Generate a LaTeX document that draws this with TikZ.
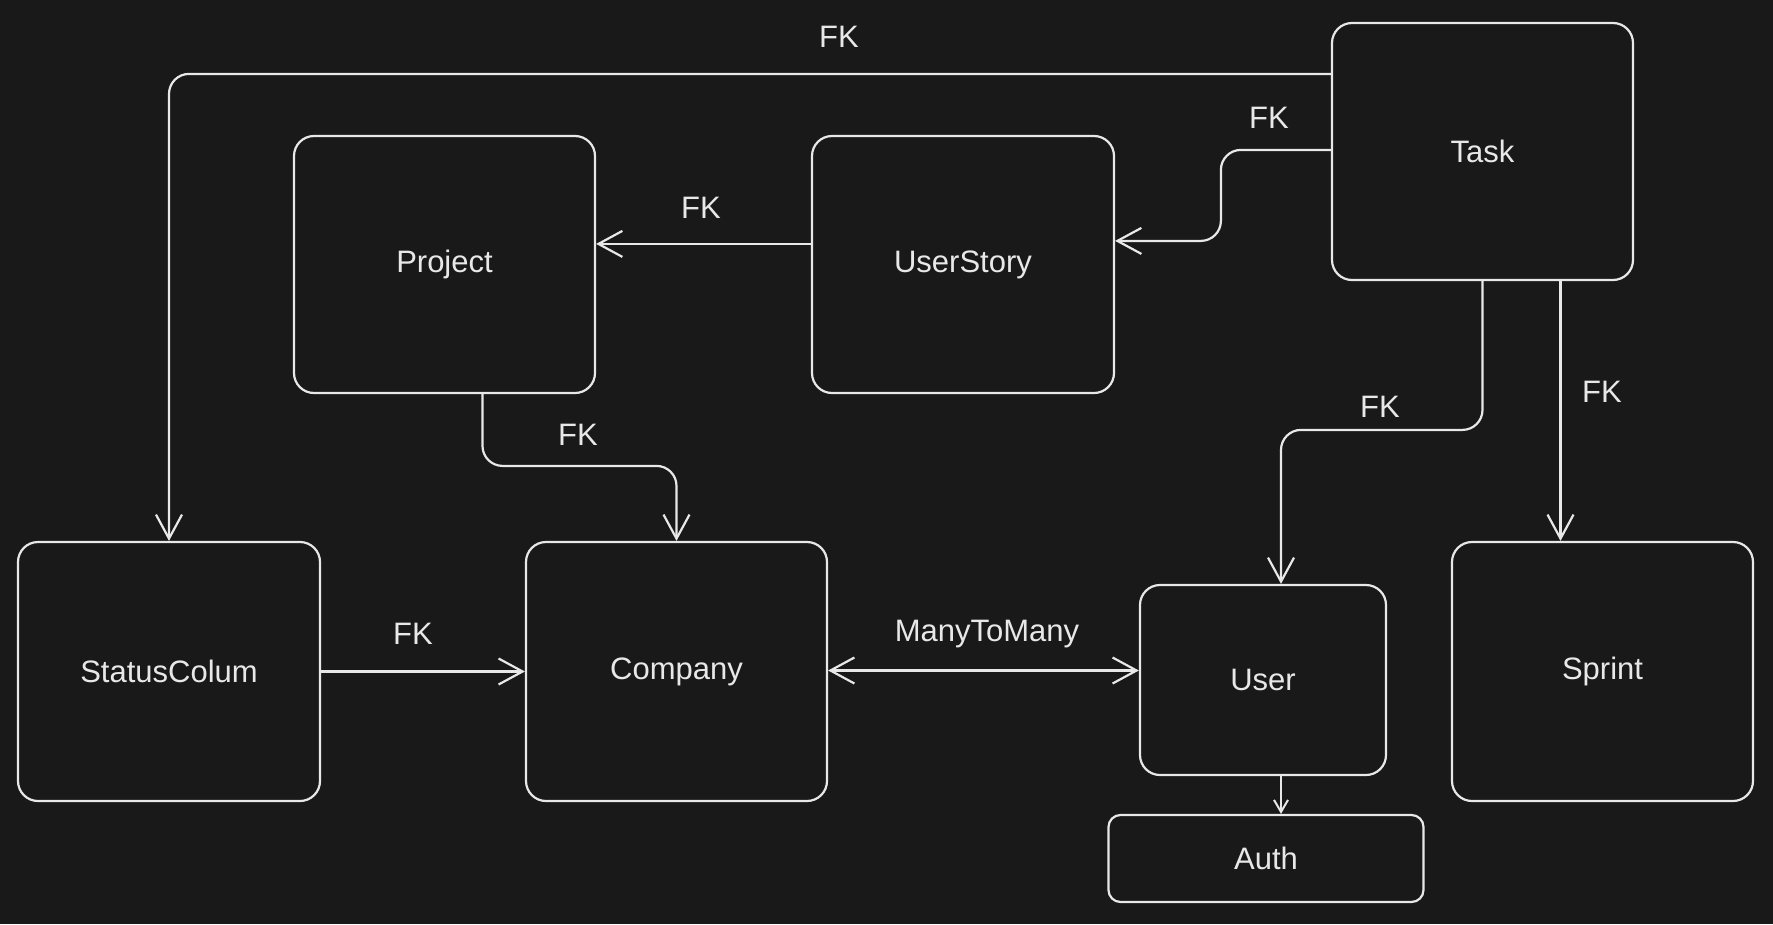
\documentclass[tikz,border=0pt]{standalone}
\usepackage{fontspec}
\setmainfont{Liberation Sans}
\usetikzlibrary{calc,arrows.meta}
\definecolor{bgc}{HTML}{191919}
\definecolor{inkc}{HTML}{E8E8E8}
\tikzset{
  box/.style={draw=inkc, fill=bgc, line width=2.2pt, rounded corners=20pt, inner sep=0pt,
    text=inkc, font=\fontsize{31}{37}\selectfont},
  lbl/.style={text=inkc, inner sep=0pt, font=\fontsize{31}{37}\selectfont},
  conn/.style={draw=inkc, line width=2.2pt, rounded corners=20pt,
    -{Straight Barb[length=24pt,width=26pt,line width=2.2pt]}},
  connb/.style={draw=inkc, line width=2.2pt,
    {Straight Barb[length=24pt,width=26pt,line width=2.2pt]}-{Straight Barb[length=24pt,width=26pt,line width=2.2pt]}},
  conns/.style={draw=inkc, line width=2pt,
    -{Straight Barb[length=12pt,width=14pt,line width=2pt]}},
}
\begin{document}
\begin{tikzpicture}[x=1pt,y=-1pt]
\fill[bgc] (0,0) rectangle (1773,924);
\useasboundingbox (0,0) rectangle (1773,924);

% boxes
\node[box, minimum width=301pt, minimum height=257pt] (Project) at (444.5,264.5) {Project};
\node[box, minimum width=302pt, minimum height=257pt] (UserStory) at (963,264.5) {UserStory};
\node[box, minimum width=301pt, minimum height=257pt] (Task) at (1482.5,151.5) {Task};
\node[box, minimum width=302pt, minimum height=259pt] (StatusColum) at (169,671.5) {StatusColum};
\node[box, minimum width=301pt, minimum height=259pt] (Company) at (676.5,671.5) {Company};
\node[box, minimum width=246pt, minimum height=190pt] (User) at (1263,680) {User};
\node[box, minimum width=301pt, minimum height=259pt] (Sprint) at (1602.5,671.5) {Sprint};
\node[box, minimum width=315pt, minimum height=87pt, rounded corners=12pt] (Auth) at (1266,858.5) {Auth};

% connectors
% Task -> StatusColum
\draw[conn] ($(Task.north west)+(0,52)$) -| (StatusColum.north);
\node[lbl] (l1) at (839,37) {FK};

% Task -> UserStory
\draw[conn] ($(Task.north west)+(0,128)$) -- ++(-110,0) |- ($(UserStory.north east)+(0,106)$);
\node[lbl] (l2) at (1269,118) {FK};

% UserStory -> Project
\draw[conn] ($(UserStory.north west)+(0,109)$) -- ($(Project.north east)+(0,109)$);
\node[lbl] (l3) at (701,208) {FK};

% Project -> Company
\coordinate (pc) at ($(Project.south)+(38,0)$);
\draw[conn] (pc) |- ($(Company.north)+(0,-75)$) -- (Company.north);
\node[lbl] (l4) at (578,435) {FK};

% StatusColum -> Company
\draw[conn] (StatusColum.east) -- (Company.west);
\node[lbl] (l5) at (413,634) {FK};

% Company <-> User
\draw[connb] ([yshift=1pt]Company.east) -- ([yshift=1pt]Company.east -| User.west);
\node[lbl] (l6) at (987,634) {ManyToMany};

% Task -> User
\coordinate (tu) at ($(User.north)+(18,0)$);
\draw[conn] (Task.south) |- ($(tu)+(0,-154)$) -- (tu);
\node[lbl] (l7) at (1380,407) {FK};

% Task -> Sprint
\coordinate (ts) at ($(Task.south)+(78,0)$);
\draw[conn] (ts) -- (ts |- Sprint.north);
\node[lbl] (l8) at (1602,392) {FK};

% User -> Auth
\coordinate (ua) at ($(User.south)+(18,0)$);
\draw[conns] (ua) -- (ua |- Auth.north);
\end{tikzpicture}
\end{document}
